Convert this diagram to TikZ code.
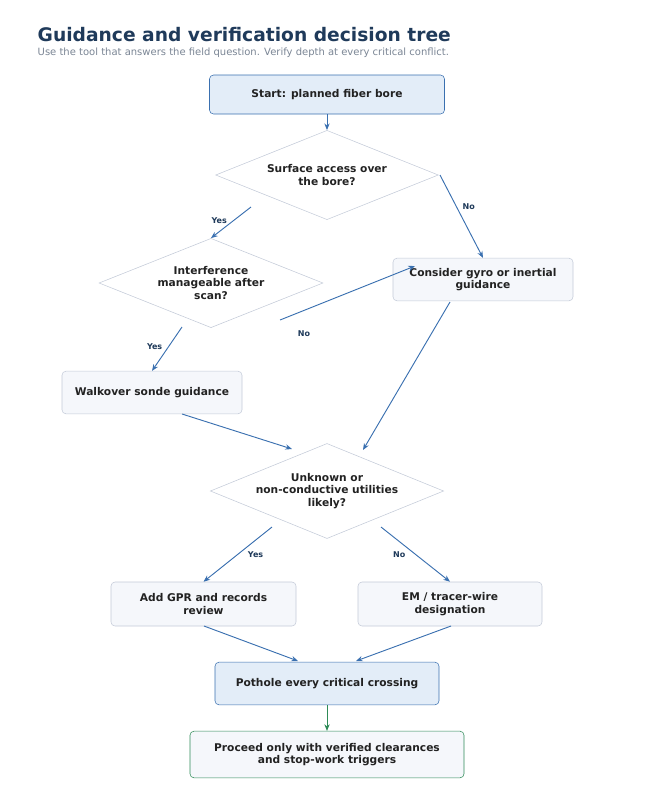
\documentclass[tikz,border=0pt]{standalone}
\usepackage{fontspec}
\setmainfont{DejaVu Sans}
\usetikzlibrary{shapes.geometric,arrows.meta}
\definecolor{navy}{HTML}{1F3A5A}
\definecolor{sub}{HTML}{7A8594}
\definecolor{bluefill}{HTML}{E3EDF8}
\definecolor{blueline}{HTML}{3A70B0}
\definecolor{boxfill}{HTML}{F5F7FB}
\definecolor{boxline}{HTML}{C3CAD8}
\definecolor{greenline}{HTML}{2E8B57}
\definecolor{txt}{HTML}{222222}
\begin{document}
\begin{tikzpicture}[x=0.75pt,y=-0.75pt,
  lbl/.style={font=\bfseries\fontsize{8}{9.5}\selectfont,text=txt,align=center},
  hbox/.style={lbl,draw=blueline,fill=bluefill,rounded corners=3pt,minimum width=#1*0.75pt,inner sep=0pt},
  gbox/.style={lbl,draw=boxline,fill=boxfill,rounded corners=3pt,minimum width=#1*0.75pt,inner sep=0pt},
  dia/.style={lbl,draw=boxline,fill=white,diamond,aspect=2.4,inner sep=0pt},
  arr/.style={draw=blueline,-{Stealth[length=5pt,width=4pt]},line width=0.7pt},
  yn/.style={font=\bfseries\fontsize{6}{7}\selectfont,text=navy}]
\useasboundingbox (0,0) rectangle (654,800);
\node[anchor=base west,font=\bfseries\fontsize{14}{16}\selectfont,text=navy] (title) at (33,41) {Guidance and verification decision tree};
\node[anchor=base west,font=\fontsize{7.5}{9}\selectfont,text=sub] (subt) at (33,55) {Use the tool that answers the field question. Verify depth at every critical conflict.};
\node[hbox=235,minimum height=29.25pt] (start) at (327,94.5) {Start: planned fiber bore};
\node[dia,minimum width=167pt,minimum height=67pt] (d1) at (327,175) {Surface access over\\the bore?};
\node[dia,minimum width=168pt,minimum height=67pt] (d2) at (211,283) {Interference\\manageable after\\scan?};
\node[gbox=180,minimum height=32pt] (gyro) at (483,279.5) {Consider gyro or inertial\\guidance};
\node[gbox=180,minimum height=32pt] (walk) at (152,392.5) {Walkover sonde guidance};
\node[dia,minimum width=175pt,minimum height=67pt] (d3) at (327,491) {Unknown or\\non-conductive utilities\\likely?};
\node[gbox=185,minimum height=33pt] (gpr) at (203.5,604) {Add GPR and records\\review};
\node[gbox=184,minimum height=33pt] (em) at (450,604) {EM / tracer-wire\\designation};
\node[hbox=224,minimum height=32pt] (pot) at (327,683.5) {Pothole every critical crossing};
\node[gbox=274,minimum height=35pt,draw=greenline] (proc) at (327,754.5) {Proceed only with verified clearances\\and stop-work triggers};
\coordinate (a1) at (251,207); \coordinate (a2) at (440,175);
\coordinate (b1) at (182,327); \coordinate (b2) at (280,320); \coordinate (b3) at (415,266);
\coordinate (c1) at (450,302); \coordinate (c2) at (363,450);
\coordinate (w1) at (182,414); \coordinate (w2) at (292,449);
\coordinate (e1) at (272,527); \coordinate (e2) at (381,527);
\coordinate (g1) at (204,626); \coordinate (g2) at (298,661);
\coordinate (m1) at (451,626); \coordinate (m2) at (356,661);
\draw[arr] (start) -- (d1.north);
\draw[arr] (a1) -- (d2.north) node[yn,pos=0.45,left=1pt] {Yes};
\draw[arr] (a2) -- (gyro.north) node[yn,pos=0.38,right=1pt] {No};
\draw[arr] (b1) -- (walk.north) node[yn,pos=0.45,left=1pt] {Yes};
\draw[arr] (b2) -- (b3);
\node[yn] (nob) at (304,334) {No};
\draw[arr] (c1) -- (c2);
\draw[arr] (w1) -- (w2);
\draw[arr] (e1) -- (gpr.north) node[yn,pos=0.5,right=4pt] {Yes};
\draw[arr] (e2) -- (em.north) node[yn,pos=0.5,left=4pt] {No};
\draw[arr] (g1) -- (g2);
\draw[arr] (m1) -- (m2);
\draw[arr,draw=greenline] (pot) -- (proc);
\end{tikzpicture}
\end{document}
